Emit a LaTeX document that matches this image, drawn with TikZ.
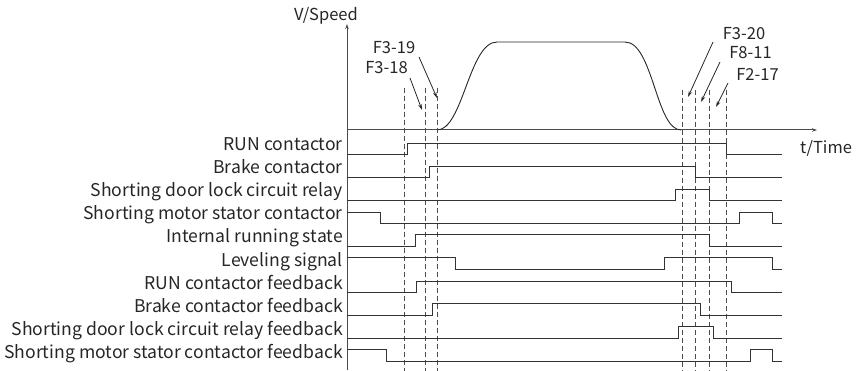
\documentclass[tikz,border=0pt]{standalone}
\usepackage{fontspec}
\setmainfont{Noto Sans CJK SC}
\usetikzlibrary{arrows.meta}
\begin{document}
\begin{tikzpicture}[x=1pt,y=-1pt,
  lbl/.style={anchor=base east,inner sep=0pt,font=\fontsize{16.5}{18}\selectfont,text=black!85},
  slbl/.style={anchor=base east,inner sep=0pt,font=\fontsize{17.6}{19}\selectfont,text=black!85},
  flbl/.style={anchor=base,inner sep=0pt,font=\fontsize{16.5}{18}\selectfont,text=black!85},
  sig/.style={line width=0.9pt,black!80},
  axis/.style={line width=1pt,black!70,-{Stealth[length=5pt,width=3.5pt]}},
  dline/.style={line width=0.9pt,black!70,dash pattern=on 5pt off 3pt},
  ptr/.style={line width=0.8pt,black!85,-{Stealth[length=6pt,width=3.5pt]}},
  spd/.style={line width=0.9pt,black!85}]
\useasboundingbox (0,0) rectangle (864,371);
% axes
\coordinate (o) at (347,130);
\coordinate (vb) at (347,370);
\coordinate (vt) at (347,24);
\coordinate (ht) at (817,130);
\draw[axis] (vb) -- (vt);
\draw[axis] (o) -- (ht);
\node[lbl] (vl) at (358,21) {V/Speed};
\node[anchor=base west,inner sep=0pt,font=\fontsize{16.5}{18}\selectfont,text=black!85] (tl) at (800,154) {t/Time};
% speed curve
\draw[spd] (437,130) .. controls (463,130) and (469,42) .. (497,42) -- (625,42)
  .. controls (653,42) and (656,130) .. (681,130);
% dashed lines
\foreach \x in {404,425,437} \draw[dline] (\x,88) -- (\x,371);
\foreach \x in {682,695,709,726} \draw[dline] (\x,90) -- (\x,371);
% parameter labels
\node[flbl] (f319) at (394,54) {F3-19};
\node[flbl] (f318) at (386.5,74) {F3-18};
\node[flbl] (f320) at (744,40) {F3-20};
\node[flbl] (f811) at (750.5,59) {F8-11};
\node[flbl] (f217) at (757.5,81) {F2-17};
\coordinate (a1) at (437,98);
\coordinate (a2) at (422,110);
\coordinate (a3) at (688,97);
\coordinate (a4) at (701,102);
\coordinate (a5) at (716,107);
\draw[ptr] (419,57) -- (a1);
\draw[ptr] (410,78) -- (a2);
\draw[ptr] (713,42) -- (a3);
\draw[ptr] (720,62) -- (a4);
\draw[ptr] (728,83) -- (a5);
% signal labels
\node[slbl] (s0) at (343,151) {RUN contactor};
\node[slbl] (s1) at (343,174) {Brake contactor};
\node[slbl] (s2) at (343,197) {Shorting door lock circuit relay};
\node[slbl] (s3) at (343,220) {Shorting motor stator contactor};
\node[slbl] (s4) at (343,243) {Internal running state};
\node[slbl] (s5) at (343,266) {Leveling signal};
\node[slbl] (s6) at (343,289) {RUN contactor feedback};
\node[slbl] (s7) at (343,312) {Brake contactor feedback};
\node[slbl] (s8) at (343,335) {Shorting door lock circuit relay feedback};
\node[slbl] (s9) at (343,358) {Shorting motor stator contactor feedback};
% waveforms
\draw[sig] (347,154) -- (407,154) -- (407,143) -- (726,143) -- (726,154) -- (782,154);
\draw[sig] (347,177) -- (429,177) -- (429,166) -- (695,166) -- (695,177) -- (782,177);
\draw[sig] (347,200) -- (675,200) -- (675,189) -- (709,189) -- (709,200) -- (782,200);
\draw[sig] (347,212) -- (380,212) -- (380,223) -- (739,223) -- (739,212) -- (772,212) -- (772,223) -- (782,223);
\draw[sig] (347,246) -- (415,246) -- (415,234) -- (709,234) -- (709,246) -- (782,246);
\draw[sig] (347,257) -- (455,257) -- (455,269) -- (664,269) -- (664,257) -- (772,257) -- (772,269) -- (782,269);
\draw[sig] (347,292) -- (416,292) -- (416,281) -- (731,281) -- (731,292) -- (782,292);
\draw[sig] (347,315) -- (432,315) -- (432,303) -- (700,303) -- (700,315) -- (782,315);
\draw[sig] (347,338) -- (678,338) -- (678,326) -- (713,326) -- (713,338) -- (782,338);
\draw[sig] (347,349) -- (386,349) -- (386,361) -- (750,361) -- (750,349) -- (772,349) -- (772,361) -- (782,361);
\end{tikzpicture}
\end{document}
